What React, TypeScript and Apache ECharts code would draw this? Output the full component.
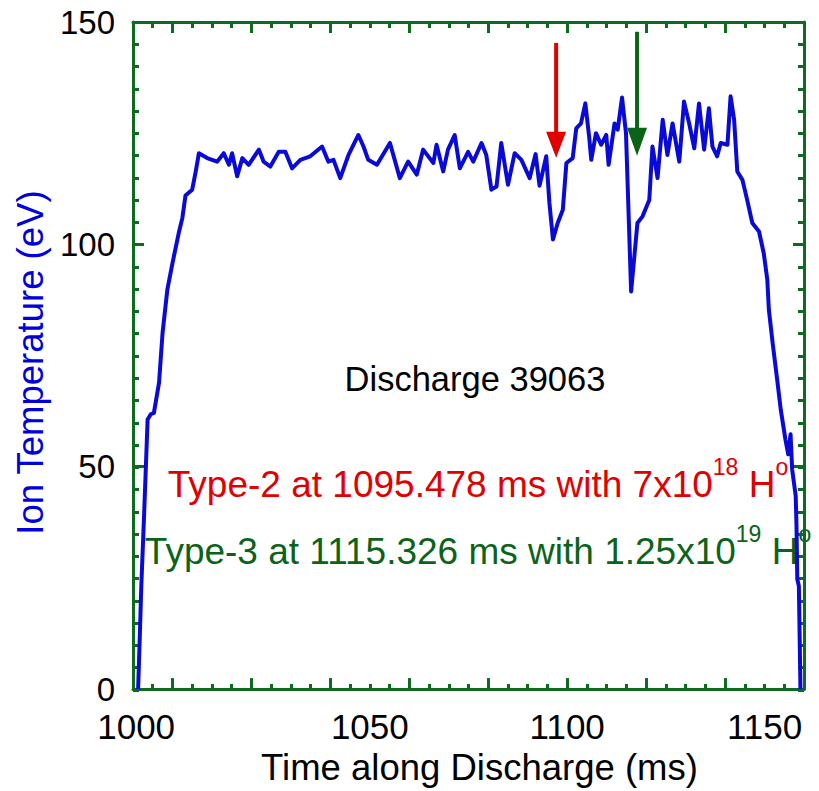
import React, { useEffect, useRef } from 'react';
import * as echarts from 'echarts';

// ---- data ----
const timeMs = [
  991.3, 991.7, 992.1, 992.8, 993.7, 994.5, 995.3, 996.6, 997.5, 998.7,
  1000.0, 1001.6, 1002.5, 1003.3, 1005.0, 1005.9, 1006.7, 1008.8, 1011.3, 1013.0,
  1014.3, 1015.1, 1016.4, 1017.7, 1019.3, 1021.9, 1023.1, 1024.8, 1026.9, 1028.6,
  1030.3, 1032.4, 1034.9, 1037.9, 1039.5, 1040.8, 1042.5, 1044.6, 1047.1, 1048.4,
  1049.6, 1051.8, 1055.1, 1057.6, 1059.7, 1061.9, 1063.5, 1066.1, 1066.9, 1068.6,
  1069.8, 1071.5, 1072.8, 1074.9, 1076.2, 1078.3, 1079.5, 1080.8, 1082.1, 1083.3,
  1085.0, 1086.7, 1088.4, 1090.5, 1092.0, 1093.0, 1094.7, 1095.5, 1096.4, 1097.6,
  1098.9, 1099.8, 1101.4, 1102.3, 1103.5, 1104.6, 1105.6, 1106.1, 1107.3, 1108.6,
  1109.9, 1110.5, 1112.0, 1112.8, 1113.9, 1114.9, 1116.2, 1117.8, 1119.1, 1120.8,
  1121.6, 1122.9, 1124.2, 1125.4, 1126.7, 1128.4, 1129.6, 1130.9, 1132.2, 1133.4,
  1134.7, 1135.9, 1136.8, 1138.0, 1138.9, 1140.6, 1141.4, 1142.3, 1143.1, 1144.4,
  1145.6, 1146.9, 1148.6, 1149.8, 1150.7, 1151.1, 1152.1, 1153.2, 1154.1, 1155.3,
  1156.0, 1156.6, 1157.0, 1157.9, 1158.1, 1158.3, 1158.7, 1159.1,
];
const ionTempEv = [
  0, 11.2, 23.1, 38.9, 60.6, 61.8, 62.1, 68.9, 80.2, 89.8,
  95.8, 102.6, 105.9, 111.0, 112.3, 116.4, 120.5, 119.4, 118.6, 120.5,
  117.9, 120.5, 115.3, 119.4, 117.9, 121.3, 118.6, 117.5, 120.8, 120.8,
  117.1, 119.0, 119.8, 122.0, 118.6, 119.0, 114.9, 120.1, 124.6, 122.0,
  119.0, 117.9, 122.8, 114.9, 118.6, 115.7, 121.3, 118.3, 122.4, 116.4,
  121.3, 124.6, 117.1, 120.8, 118.6, 122.8, 120.1, 112.3, 113.0, 122.8,
  113.4, 120.5, 119.0, 114.9, 120.3, 113.2, 119.8, 109.3, 101.1, 104.8,
  107.8, 118.3, 119.4, 126.1, 127.2, 131.7, 123.9, 119.0, 125.0, 122.4,
  124.6, 117.9, 127.2, 125.8, 133.0, 125.0, 89.4, 104.8, 106.3, 110.0,
  122.0, 114.9, 128.0, 120.1, 127.2, 118.6, 132.1, 127.2, 121.6, 131.7,
  121.3, 130.6, 122.0, 119.8, 122.8, 122.4, 133.3, 128.0, 116.4, 114.5,
  110.0, 104.8, 102.9, 98.0, 92.1, 85.3, 77.5, 69.6, 62.9, 56.1,
  52.8, 57.3, 49.4, 43.4, 36.7, 24.7, 23.2, 0,
];

// x axis: labels and ticks (ms)
const xLabelValues = [990.8, 1050, 1100, 1150];
const xMajorTicks = [1000, 1020, 1040, 1060, 1080, 1100, 1120, 1140];
const xMinorTicks: number[] = [];
for (let v = 990; v <= 1160; v += 5) xMinorTicks.push(v);

// arrows marking the pellet injections
const arrowTimes = [1097.2, 1117.7];
const arrowTopEv = [145.3, 147.8];
const arrowHeadEv = [125.3, 126.2];
const arrowTipEv = [119.5, 119.9];
const arrowColors = ['#e00000', '#0b6318'];

const GREEN = '#0d6a1f';
const FONT = '"Liberation Sans", Arial, Helvetica, sans-serif';

export default function App() {
  const ref = useRef<HTMLDivElement>(null);
  useEffect(() => {
    if (!ref.current) return;
    const chart = echarts.init(ref.current, undefined, { renderer: 'svg' });
    const lineData = timeMs.map((t, i) => [t, ionTempEv[i]]);
    const arrowData = arrowTimes.map((t, i) => [t, arrowTopEv[i], arrowHeadEv[i], arrowTipEv[i]]);

    const axisLine = { show: true, onZero: false, lineStyle: { color: GREEN, width: 3 } };
    const noLine = { show: false, onZero: false };
    const gridBox = { left: 133, right: 15, top: 22, bottom: 101, containLabel: false };
    const majorTick = (extra: any = {}) => ({ show: true, inside: true, length: 11, lineStyle: { color: GREEN, width: 3 }, ...extra });
    const minorTickStyle = (extra: any = {}) => ({ show: true, inside: true, length: 6, lineStyle: { color: GREEN, width: 3 }, ...extra });

    const supStyle = (color: string) => ({
      m: { fontSize: 37, lineHeight: 58, fill: color, color, fontFamily: FONT },
      s: { fontSize: 23, lineHeight: 23, fill: color, color, fontFamily: FONT, verticalAlign: 'top' },
    });

    chart.setOption({
      animation: false,
      backgroundColor: '#ffffff',
      grid: [gridBox, gridBox],
      xAxis: [
        {
          gridIndex: 0, type: 'value', position: 'bottom', min: 990, max: 1160,
          axisLine,
          axisTick: majorTick({ customValues: xMajorTicks }),
          axisLabel: {
            show: true, customValues: xLabelValues, margin: 20,
            formatter: (v: number) => String(Math.ceil(v / 50) * 50),
            fontSize: 35, color: '#000', fontFamily: FONT,
          },
          splitLine: { show: false },
          name: 'Time along Discharge (ms)', nameLocation: 'middle', nameGap: 58,
          nameTextStyle: { fontSize: 36.5, color: '#000', fontFamily: FONT, padding: [0, 0, 0, 22] },
        },
        {
          gridIndex: 0, type: 'value', position: 'top', min: 990, max: 1160,
          axisLine,
          axisTick: majorTick({ customValues: xMajorTicks }),
          axisLabel: { show: false }, splitLine: { show: false },
        },
        {
          gridIndex: 1, type: 'value', position: 'bottom', min: 990, max: 1160,
          axisLine: noLine,
          axisTick: minorTickStyle({ customValues: xMinorTicks }),
          axisLabel: { show: false }, splitLine: { show: false },
        },
        {
          gridIndex: 1, type: 'value', position: 'top', min: 990, max: 1160,
          axisLine: noLine,
          axisTick: minorTickStyle({ customValues: xMinorTicks }),
          axisLabel: { show: false }, splitLine: { show: false },
        },
      ],
      yAxis: [
        {
          gridIndex: 0, type: 'value', position: 'left', min: 0, max: 150, interval: 50,
          axisLine,
          axisTick: majorTick(),
          axisLabel: { show: true, margin: 18, fontSize: 33, color: '#000', fontFamily: FONT },
          splitLine: { show: false },
          name: 'Ion Temperature (eV)', nameLocation: 'middle', nameGap: 70,
          nameTextStyle: { fontSize: 36.5, color: '#0000dd', fontFamily: FONT, padding: [0, 14, 0, 0] },
        },
        {
          gridIndex: 0, type: 'value', position: 'right', min: 0, max: 150, interval: 50,
          axisLine,
          axisTick: majorTick(),
          axisLabel: { show: false }, splitLine: { show: false },
        },
        {
          gridIndex: 1, type: 'value', position: 'left', min: 0, max: 150, interval: 5,
          axisLine: noLine, axisTick: minorTickStyle(),
          axisLabel: { show: false }, splitLine: { show: false },
        },
        {
          gridIndex: 1, type: 'value', position: 'right', min: 0, max: 150, interval: 5,
          axisLine: noLine, axisTick: minorTickStyle(),
          axisLabel: { show: false }, splitLine: { show: false },
        },
      ],
      series: [
        {
          type: 'line', xAxisIndex: 0, yAxisIndex: 0, data: lineData,
          showSymbol: false, symbol: 'none',
          lineStyle: { color: '#0a0ad8', width: 4, join: 'round' },
          z: 5,
        },
        {
          type: 'custom', xAxisIndex: 0, yAxisIndex: 0, data: arrowData, z: 6,
          renderItem: (params: any, api: any) => {
            const x = api.value(0);
            const pTop = api.coord([x, api.value(1)]);
            const pHead = api.coord([x, api.value(2)]);
            const pTip = api.coord([x, api.value(3)]);
            const color = arrowColors[params.dataIndex];
            return {
              type: 'group',
              children: [
                { type: 'rect', shape: { x: pTop[0] - 2, y: pTop[1], width: 4, height: pHead[1] - pTop[1] + 1 }, style: { fill: color } },
                { type: 'polygon', shape: { points: [[pHead[0] - 10, pHead[1]], [pHead[0] + 10, pHead[1]], [pTip[0], pTip[1]]] }, style: { fill: color } },
              ],
            };
          },
        },
      ],
      graphic: [
        {
          type: 'text', x: 475, y: 379,
          style: { text: 'Discharge 39063', fontSize: 34.5, fill: '#000', fontFamily: FONT, align: 'center', verticalAlign: 'middle' },
        },
        {
          type: 'text', x: 478, y: 484,
          style: {
            text: '{m|Type-2 at 1095.478 ms with 7x10}{s|18}{m| H}{s|o}',
            rich: supStyle('#e00000'), fill: '#e00000', align: 'center', verticalAlign: 'middle',
          },
        },
        {
          type: 'text', x: 478, y: 551,
          style: {
            text: '{m|Type-3 at 1115.326 ms with 1.25x10}{s|19}{m| H}{s|o}',
            rich: supStyle('#0b6318'), fill: '#0b6318', align: 'center', verticalAlign: 'middle',
          },
        },
      ],
    });
    return () => chart.dispose();
  }, []);
  return <div ref={ref} style={{ width: 819, height: 791, position: 'absolute', left: 0, top: 0 }} />;
}
